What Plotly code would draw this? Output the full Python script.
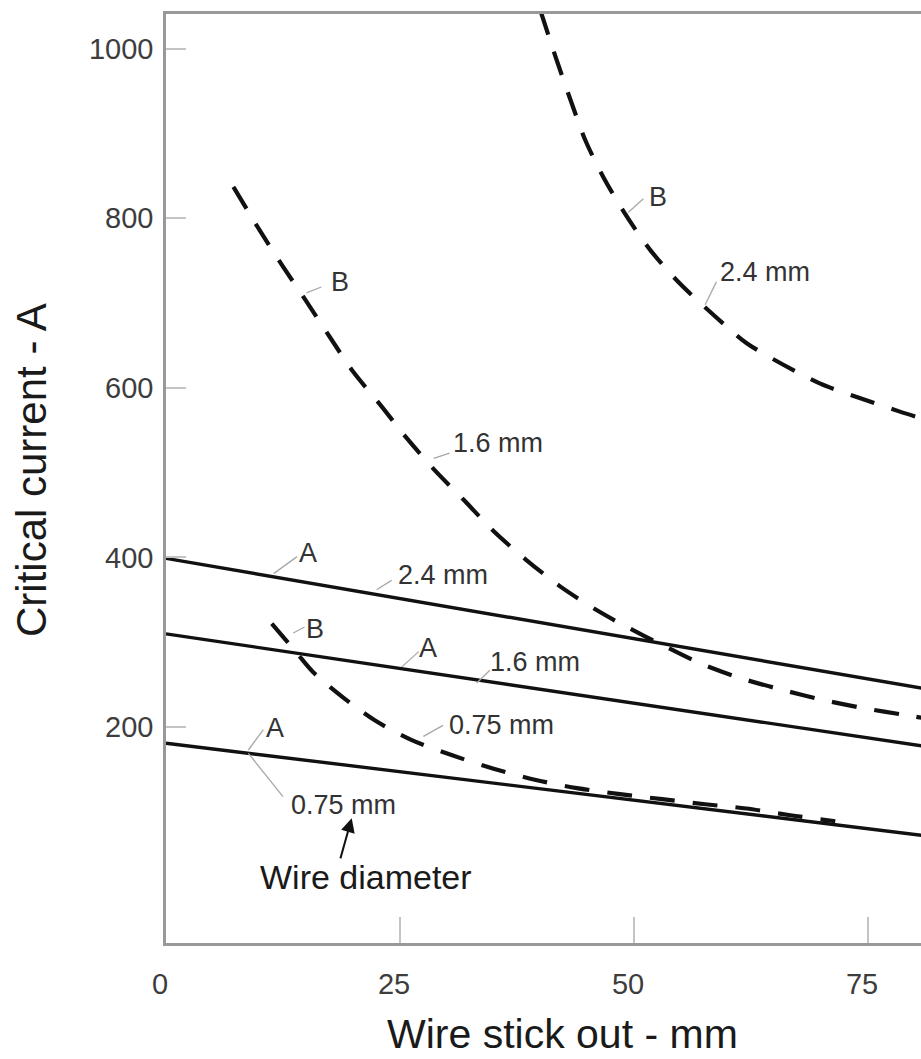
import plotly.graph_objects as go

# ---------------- data ----------------
a_x = [0, 80.7]
a_24_y = [399, 246]
a_16_y = [310, 178]
a_075_y = [181, 72.5]

b_24_x = [40.0, 41.6, 43.2, 44.8, 46.7, 49.0, 51.7, 54.9, 58.5, 62.0, 66.0, 69.9, 74.1, 78.4, 80.7]
b_24_y = [1045, 991, 940, 892, 849, 806, 763, 723, 686, 653, 627, 605, 588, 572, 564]

b_16_x = [7.2, 10.0, 12.5, 15.0, 17.5, 20.0, 22.9, 25.7, 28.7, 31.8, 35.1, 38.5, 42.1, 46.0,
          48.9, 53.0, 57.1, 61.3, 65.8, 70.2, 74.7, 79.1, 80.7]
b_16_y = [837, 786, 743, 702, 660, 619, 580, 541, 503, 468, 430, 397, 366, 338,
          320, 297, 275, 258, 244, 232, 222, 214, 211]

b_075_x = [11.3, 14.0, 15.7, 18.8, 22.3, 26.2, 30.5, 35.0, 39.4, 43.9, 48.5, 53.0, 57.6, 62.0, 66.7, 71.5]
b_075_y = [322, 287, 265, 236, 208, 185, 167, 151, 138, 128, 121, 115, 109, 104, 96, 89]

x_ticks = [0, 25, 50, 75]
y_ticks = [200, 400, 600, 800, 1000]

# labels: (text, x, y, anchor, leader x0, y0, x1, y1)
labels = [
    ("B", 52.6, 825, "center", 49.4, 807, 51.0, 823),
    ("2.4 mm", 59.0, 737, "left", 57.6, 698, 58.8, 725),
    ("B", 18.6, 725, "center", 15.0, 712, 16.6, 719),
    ("1.6 mm", 30.5, 535, "left", 28.6, 517, 30.3, 523),
    ("A", 15.2, 405, "center", 11.5, 381, 14.0, 401),
    ("2.4 mm", 24.6, 379, "left", 22.5, 362, 24.1, 373),
    ("B", 15.9, 316, "center", 13.6, 311, 14.8, 318),
    ("A", 28.0, 293, "center", 25.2, 271, 27.0, 289),
    ("1.6 mm", 34.4, 277, "left", 33.2, 252, 34.6, 267),
    ("0.75 mm", 30.0, 202, "left", 27.5, 189, 29.6, 202),
    ("A", 11.65, 199, "center", 8.8, 173, 10.4, 197),
    ("0.75 mm", 13.1, 108, "left", 8.8, 169, 12.5, 118),
]
arrow_head = (19.84, 92.5)
arrow_tail = (18.59, 43.4)
note_text = "Wire diameter"
note_pos = (21.35, 23.6)

FONT = "Liberation Sans, Arial, Helvetica, sans-serif"
LINE = "#111111"
DASH = "25px,18px"

W, H = 921, 1059
ml, mr, mt, mb = 166, 0, 14, 116
pw, ph = W - ml - mr, H - mt - mb

fig = go.Figure()
for yy in (a_24_y, a_16_y, a_075_y):
    fig.add_trace(go.Scatter(x=a_x, y=yy, mode="lines",
                             line=dict(color=LINE, width=3.4), hoverinfo="skip"))
for xx, yy in ((b_24_x, b_24_y), (b_16_x, b_16_y), (b_075_x, b_075_y)):
    fig.add_trace(go.Scatter(x=xx, y=yy, mode="lines",
                             line=dict(color=LINE, width=4.2, dash=DASH, shape="spline", smoothing=0.8),
                             hoverinfo="skip"))

for text, lx, ly, anc, x0, y0, x1, y1 in labels:
    fig.add_shape(type="line", x0=x0, y0=y0, x1=x1, y1=y1, xref="x", yref="y",
                  line=dict(color="#a8a8a8", width=1.3))
    fig.add_annotation(x=lx, y=ly, xref="x", yref="y", text=text, showarrow=False,
                       xanchor=anc, yanchor="middle",
                       font=dict(family=FONT, size=27, color="#333333"))

fig.add_annotation(x=arrow_head[0], y=arrow_head[1], ax=arrow_tail[0], ay=arrow_tail[1],
                   xref="x", yref="y", axref="x", ayref="y", text="", showarrow=True,
                   arrowhead=2, arrowsize=1.4, arrowwidth=2, arrowcolor="#111111")
fig.add_annotation(x=note_pos[0], y=note_pos[1], xref="x", yref="y", text=note_text,
                   showarrow=False, xanchor="center", yanchor="middle",
                   font=dict(family=FONT, size=34, color="#1a1a1a"))

# axis titles (positions given in figure pixels, converted to paper coords)
def px_to_paper(px, py):
    return (px - ml) / pw, (H - mb - py) / ph

tx, ty = px_to_paper(562, 1034)
fig.add_annotation(x=tx, y=ty, xref="paper", yref="paper", text="Wire stick out - mm",
                   xanchor="center", yanchor="middle", showarrow=False,
                   font=dict(family=FONT, size=41, color="#1a1a1a"))
tx, ty = px_to_paper(32, 470)
fig.add_annotation(x=tx, y=ty, xref="paper", yref="paper", text="Critical current - A",
                   xanchor="center", yanchor="middle", textangle=-90, showarrow=False,
                   font=dict(family=FONT, size=42, color="#1a1a1a"))

fig.update_layout(
    width=W, height=H, margin=dict(l=ml, r=mr, t=mt, b=mb, autoexpand=False),
    paper_bgcolor="white", plot_bgcolor="white", showlegend=False,
    font=dict(family=FONT),
)
fig.update_xaxes(range=[0, 80.66], tickvals=x_ticks, ticks="inside", ticklen=26,
                 tickcolor="#c4c4c4", tickwidth=1.5, showline=True, linecolor="#999999",
                 linewidth=2.5, mirror=True, showgrid=False, zeroline=False,
                 tickfont=dict(family=FONT, size=29, color="#3d3d3d"),
                 ticklabelstandoff=13, ticklabelshift=-6)
fig.update_yaxes(range=[-54.6, 1040.9], tickvals=y_ticks, ticks="inside", ticklen=20,
                 tickcolor="#c4c4c4", tickwidth=1.5, showline=True, linecolor="#999999",
                 linewidth=2.5, mirror=False, showgrid=False, zeroline=False,
                 tickfont=dict(family=FONT, size=29, color="#3d3d3d"),
                 ticklabelstandoff=4)

fig.write_html("out.html", config={"displayModeBar": False},
               post_script="document.body.style.margin='0';document.body.style.overflow='hidden';")
